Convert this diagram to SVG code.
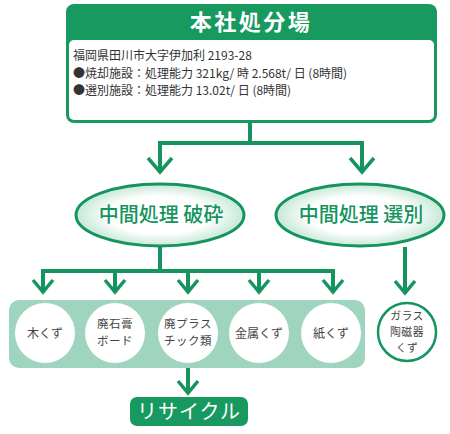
<svg xmlns="http://www.w3.org/2000/svg" width="450" height="434" viewBox="0 0 450 434">
<defs>
<style>
.c{fill:none;stroke:#16945e;stroke-width:4;stroke-linejoin:miter}
.ah{fill:none;stroke:#16945e;stroke-width:3.5}
.t{font-family:"Noto Sans CJK JP","Noto Sans",sans-serif}
.ln{font-family:"Noto Sans CJK JP",sans-serif;font-size:12px;fill:#333}
.ct{font-family:"Noto Sans CJK JP",sans-serif;font-size:12px;fill:#444;text-anchor:middle}
.ct2{font-family:"Noto Sans CJK JP",sans-serif;font-size:11.5px;fill:#444;text-anchor:middle;letter-spacing:0.5px}
.ct3{font-family:"Noto Sans CJK JP",sans-serif;font-size:10.8px;fill:#444;text-anchor:middle;letter-spacing:0.5px}
.el{fill:url(#eg);stroke:#16945e;stroke-width:3}
.et{font-family:"Noto Sans CJK JP",sans-serif;font-size:20px;fill:#16945e;text-anchor:middle;font-weight:500}
.wc{fill:#fff}
</style>
<radialGradient id="eg" cx="0.5" cy="0.5" r="0.5">
<stop offset="0.6" stop-color="#ffffff"/>
<stop offset="1" stop-color="#c6e8d6"/>
</radialGradient>
</defs>
<rect width="450" height="434" fill="#fff"/>
<g id="connectors">
<path class="c" d="M250 122V143M160 143H362M160 141V171M362 141V171"/>
<path class="ah" d="M148 158L160 172L172 158M350 158L362 172L374 158"/>
<path class="c" d="M160 247V271M43 271H333M43 269V291M115 269V291M188 269V291M259 269V291M333 269V291"/>
<path class="ah" d="M33 280L43 292L53 280M105 280L115 292L125 280M178 280L188 292L198 280M249 280L259 292L269 280M323 280L333 292L343 280"/>
<path class="c" d="M405 247V292"/>
<path class="ah" d="M395 281L405 293L415 281"/>
<path class="c" d="M188 368V392"/>
<path class="ah" d="M178 381L188 393L198 381"/>
</g>
<g id="head">
<rect x="66" y="4" width="371" height="119" rx="8" fill="#17995f"/>
<rect x="69" y="40" width="365" height="80" rx="5" fill="#fff"/>
<text class="t" x="251" y="30" font-size="22" font-weight="bold" fill="#fff" text-anchor="middle" letter-spacing="2.5">本社処分場</text>
<text class="ln" x="73" y="60">福岡県田川市大字伊加利 2193-28</text>
<text class="ln" x="73" y="78">●焼却施設：処理能力 321kg/ 時 2.568t/ 日 (8時間)</text>
<text class="ln" x="73" y="95">●選別施設：処理能力 13.02t/ 日 (8時間)</text>
</g>
<g id="crush">
<ellipse class="el" cx="160" cy="215" rx="84" ry="31"/>
<text class="et" x="161" y="222">中間処理 破砕</text>
</g>
<g id="sort">
<ellipse class="el" cx="360" cy="215" rx="84" ry="31"/>
<text class="et" x="361" y="222">中間処理 選別</text>
</g>
<g id="items">
<rect x="9" y="300" width="356" height="68" rx="10" fill="#9fd4bf"/>
<circle class="wc" cx="45" cy="333" r="30"/>
<circle class="wc" cx="115" cy="333" r="30"/>
<circle class="wc" cx="188" cy="333" r="30"/>
<circle class="wc" cx="259" cy="333" r="30"/>
<circle class="wc" cx="331" cy="333" r="30"/>
<text class="ct" x="45" y="338">木くず</text>
<text class="ct2" x="115" y="328">廃石膏</text>
<text class="ct2" x="115" y="345">ボード</text>
<text class="ct2" x="188" y="328">廃プラス</text>
<text class="ct2" x="188" y="345">チック類</text>
<text class="ct" x="259" y="338">金属くず</text>
<text class="ct" x="331" y="338">紙くず</text>
</g>
<g id="glass">
<circle cx="407" cy="332" r="29" fill="#fff" stroke="#16945e" stroke-width="2.5"/>
<text class="ct3" x="407" y="320">ガラス</text>
<text class="ct3" x="407" y="336">陶磁器</text>
<text class="ct3" x="407" y="352">くず</text>
</g>
<g id="recycle">
<rect x="130" y="397" width="118" height="29" rx="7" fill="#17995f"/>
<text class="t" x="189" y="419" font-size="20" fill="#fff" text-anchor="middle" letter-spacing="1">リサイクル</text>
</g>
</svg>
